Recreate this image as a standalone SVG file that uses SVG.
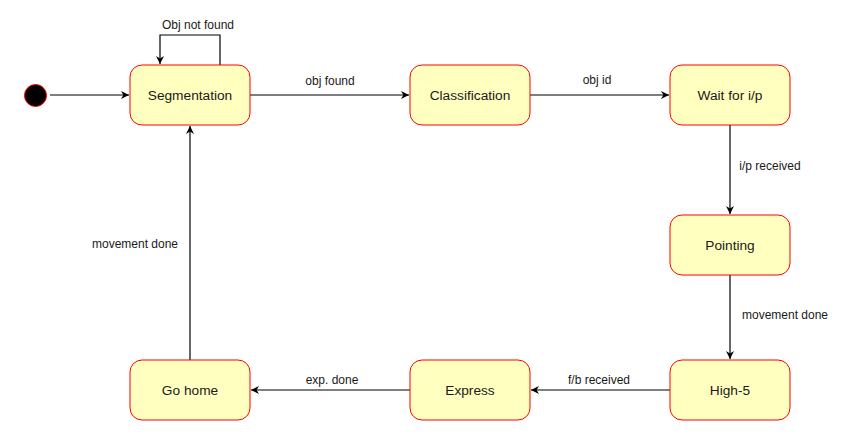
<svg xmlns="http://www.w3.org/2000/svg" width="861" height="441" viewBox="0 0 861 441">
<style>
.n{fill:#ffffc0;stroke:#ff0000;stroke-width:1}
.t{font-family:"Liberation Sans",Arial,sans-serif;font-size:13.7px;fill:#1a1a1a;text-anchor:middle;dominant-baseline:central}
.l{font-family:"Liberation Sans",Arial,sans-serif;font-size:12px;fill:#1a1a1a;text-anchor:middle;dominant-baseline:central}
.e{fill:none;stroke:#000;stroke-width:1.2}
</style>
<defs>
<marker id="a" viewBox="0 0 10 10" refX="10" refY="5" markerWidth="8" markerHeight="8" markerUnits="userSpaceOnUse" orient="auto">
<path d="M0,0 L10,5 L0,10 L3,5 Z" fill="#000"/>
</marker>
</defs>
<rect width="861" height="441" fill="#fff"/>
<g id="edges">
<path class="e" d="M50,95 H129" marker-end="url(#a)"/>
<path class="e" d="M220,65 V35 H160 V64" marker-end="url(#a)"/>
<text class="l" x="198" y="25">Obj not found</text>
<path class="e" d="M250,95 H409" marker-end="url(#a)"/>
<text class="l" x="330" y="81">obj found</text>
<path class="e" d="M530,95 H669" marker-end="url(#a)"/>
<text class="l" x="597" y="80">obj id</text>
<path class="e" d="M730,125 V214" marker-end="url(#a)"/>
<text class="l" x="770" y="166">i/p received</text>
<path class="e" d="M730,275 V359" marker-end="url(#a)"/>
<text class="l" x="785" y="315">movement done</text>
<path class="e" d="M670,390 H531" marker-end="url(#a)"/>
<text class="l" x="599" y="380">f/b received</text>
<path class="e" d="M410,390 H251" marker-end="url(#a)"/>
<text class="l" x="332" y="380">exp. done</text>
<path class="e" d="M190,360 V126" marker-end="url(#a)"/>
<text class="l" x="135" y="244">movement done</text>
</g>
<g id="start"><circle cx="35.5" cy="95.5" r="11" fill="#000" stroke="#ff0000" stroke-width="1"/></g>
<g id="segmentation"><rect class="n" x="130" y="65" width="120" height="60" rx="12"/><text class="t" x="190" y="95">Segmentation</text></g>
<g id="classification"><rect class="n" x="410" y="65" width="120" height="60" rx="12"/><text class="t" x="470" y="95">Classification</text></g>
<g id="wait"><rect class="n" x="670" y="65" width="120" height="60" rx="12"/><text class="t" x="730" y="95">Wait for i/p</text></g>
<g id="pointing"><rect class="n" x="670" y="215" width="120" height="60" rx="12"/><text class="t" x="730" y="245">Pointing</text></g>
<g id="high5"><rect class="n" x="670" y="360" width="120" height="60" rx="12"/><text class="t" x="730" y="390">High-5</text></g>
<g id="express"><rect class="n" x="410" y="360" width="120" height="60" rx="12"/><text class="t" x="470" y="390">Express</text></g>
<g id="gohome"><rect class="n" x="130" y="360" width="120" height="60" rx="12"/><text class="t" x="190" y="390">Go home</text></g>
</svg>
